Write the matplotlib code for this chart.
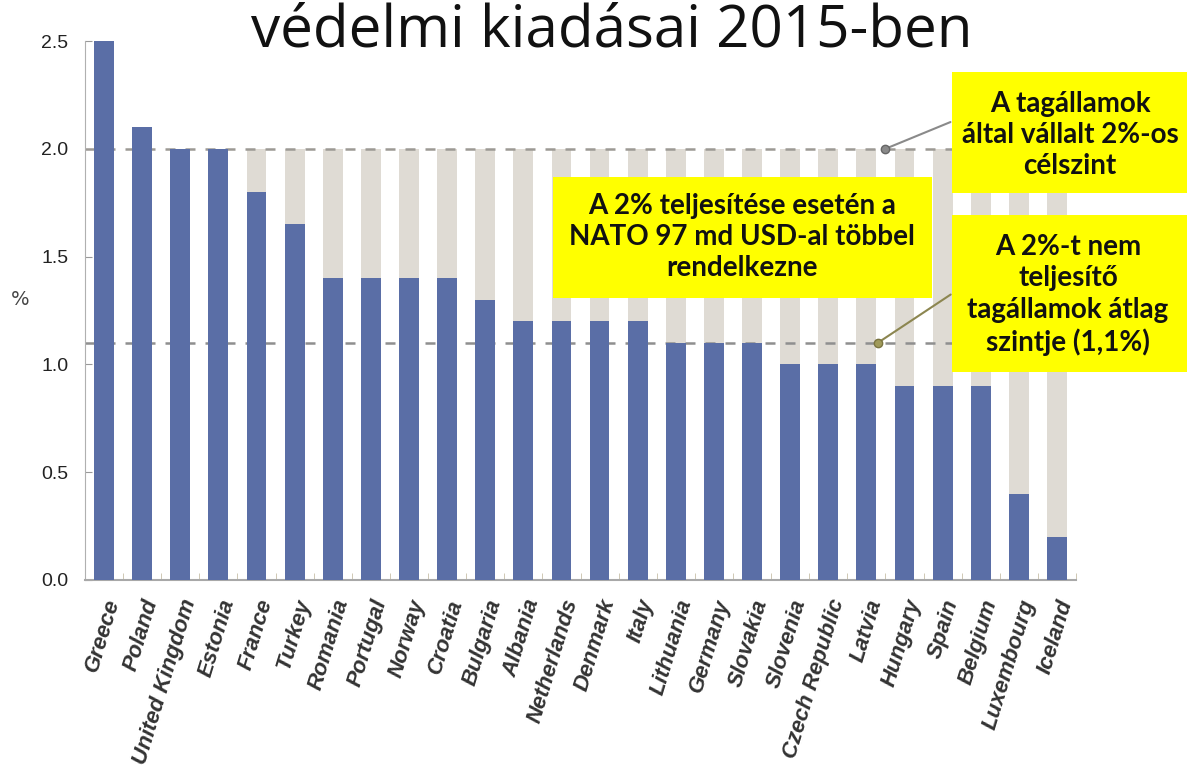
import matplotlib
matplotlib.use("Agg")
import matplotlib.pyplot as plt
from matplotlib.patches import Rectangle
from matplotlib.ticker import FixedLocator

countries = ["Greece", "Poland", "United Kingdom", "Estonia", "France", "Turkey",
             "Romania", "Portugal", "Norway", "Croatia", "Bulgaria", "Albania",
             "Netherlands", "Denmark", "Italy", "Lithuania", "Germany", "Slovakia",
             "Slovenia", "Czech Republic", "Latvia", "Hungary", "Spain", "Belgium",
             "Luxembourg", "Iceland"]
spending = [2.5, 2.1, 2.0, 2.0, 1.8, 1.65, 1.4, 1.4, 1.4, 1.4, 1.3, 1.2,
            1.2, 1.2, 1.2, 1.1, 1.1, 1.1, 1.0, 1.0, 1.0, 0.9, 0.9, 0.9, 0.4, 0.2]
target = 2.0
avg_non_compliant = 1.1
yticks = [0.0, 0.5, 1.0, 1.5, 2.0, 2.5]

title = "védelmi kiadásai 2015-ben"
box_target = "A tagállamok\náltal vállalt 2%-os\ncélszint"
box_money = "A 2% teljesítése esetén a\nNATO 97 md USD-al többel\nrendelkezne"
box_avg = "A 2%-t nem\nteljesítő\ntagállamok átlag\nszintje (1,1%)"

W, H = 1187, 780
fig = plt.figure(figsize=(W / 100, H / 100), dpi=100)
ax = fig.add_axes([85 / W, 1 - 580 / H, 991 / W, 539 / H])

n = len(countries)
x = list(range(n))
blue = "#5a6ea6"
grey = "#dfdbd4"

ax.bar(x, [target] * n, width=0.52, color=grey, zorder=1)
ax.axhline(target, color="#9c9994", lw=1.8, ls=(0, (4, 4)), zorder=2)
ax.axhline(avg_non_compliant, color="#8f8f8f", lw=1.8, ls=(0, (4, 4)), zorder=2)
ax.bar(x, spending, width=0.52, color=blue, zorder=3)

ax.set_xlim(-0.5, n - 0.5)
ax.set_ylim(0, 2.5)
ax.set_yticks(yticks)
ax.set_yticklabels([f"{v:.1f}" for v in yticks], fontsize=14,
                   family="Liberation Sans", color="#222222")
ax.set_ylabel("%", fontsize=14, color="#444444", rotation=0, va="center")
ax.yaxis.set_label_coords(-0.065, 0.52)
ax.tick_params(axis="y", direction="in", length=5, color="#999999", pad=12)

ax.set_xticks(x)
ax.set_xticklabels(countries, rotation=73, ha="right", rotation_mode="anchor",
                   fontsize=16, fontweight="bold", fontstyle="italic",
                   family="Liberation Sans", color="#333333")
ax.tick_params(axis="x", length=0, pad=12)
ax.xaxis.set_minor_locator(FixedLocator([i + 0.5 for i in range(n)]))
ax.tick_params(axis="x", which="minor", direction="in", length=5, color="#c8bfa8")

for s in ["top", "right"]:
    ax.spines[s].set_visible(False)
ax.spines["left"].set_color("#b0b0b0")
ax.spines["bottom"].set_color("#a8a8a8")
ax.spines["bottom"].set_linewidth(1.5)

fig.text(612 / W, 1 - 31 / H, title, fontsize=42, family="Open Sans",
         ha="center", va="center", color="#111111")

yellow = "#ffff00"
def box(x0, y0, x1, y1):
    fig.add_artist(Rectangle((x0 / W, 1 - y1 / H), (x1 - x0) / W, (y1 - y0) / H,
                             transform=fig.transFigure, facecolor=yellow,
                             edgecolor="none", zorder=5))

box(952, 72, 1200, 193)
box(553, 177, 932, 298)
box(952, 215, 1200, 372)

tkw = dict(family="Lato", fontweight="bold", fontsize=20, ha="center",
           va="center", color="#111111", zorder=6, linespacing=1.25)
fig.text(1070 / W, 1 - 135 / H, box_target, **tkw)
fig.text(742 / W, 1 - 237 / H, box_money, **tkw)
fig.text(1068 / W, 1 - 295 / H, box_avg, **tkw)

ax.annotate("", xy=(20.5, target), xycoords="data",
            xytext=(953 / W, 1 - 121 / H), textcoords="figure fraction",
            arrowprops=dict(arrowstyle="-", color="#8a8a8a", lw=1.5), zorder=4)
ax.plot([20.5], [target], "o", ms=6, color="#8a8a8a", mec="#666666", zorder=4, clip_on=False)
ax.annotate("", xy=(20.3, avg_non_compliant), xycoords="data",
            xytext=(953 / W, 1 - 293 / H), textcoords="figure fraction",
            arrowprops=dict(arrowstyle="-", color="#8c8650", lw=1.5), zorder=4)
ax.plot([20.3], [avg_non_compliant], "o", ms=6, color="#a09a5a", mec="#7a7440", zorder=4, clip_on=False)

fig.savefig("out.png", dpi=100)
